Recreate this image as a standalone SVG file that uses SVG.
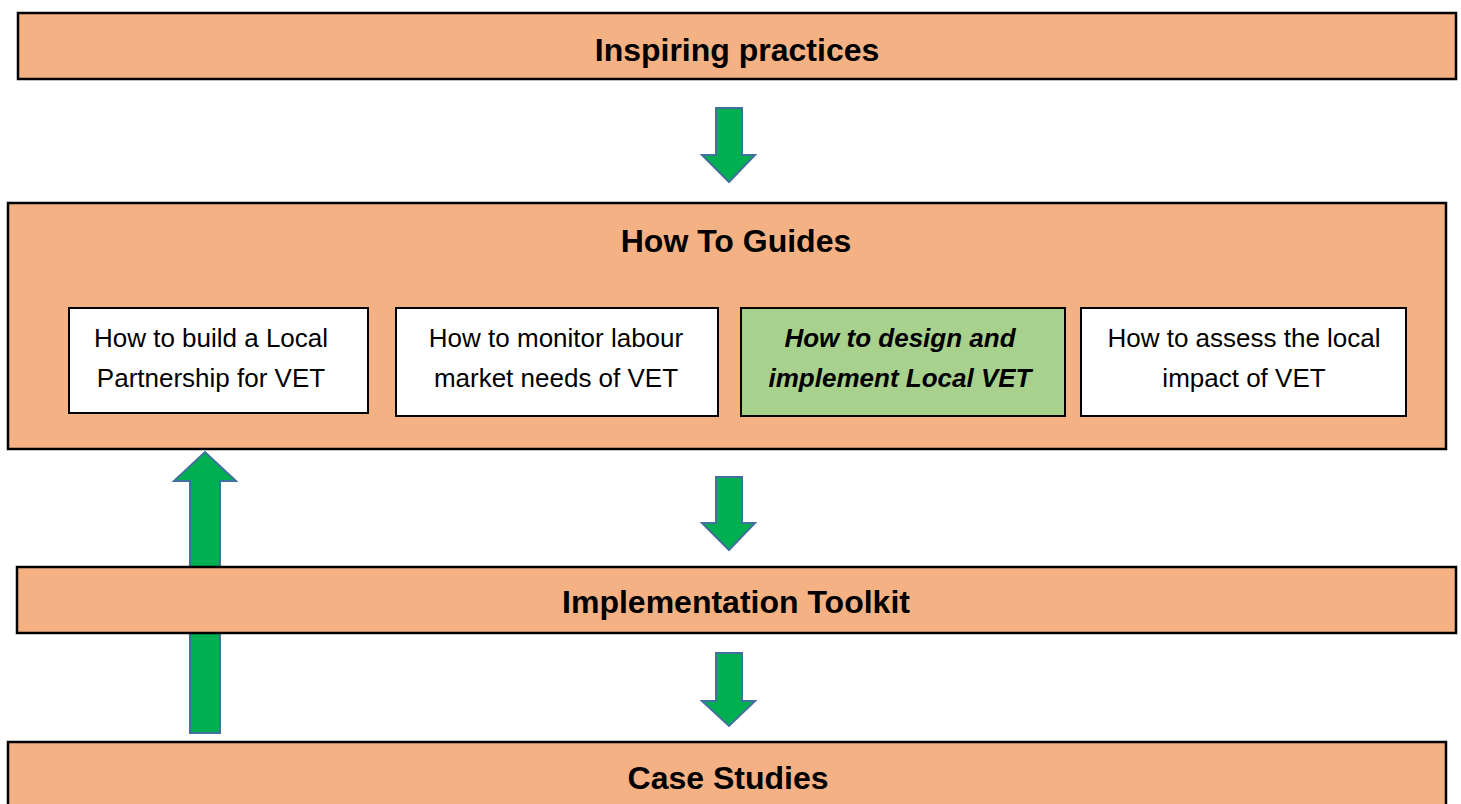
<svg xmlns="http://www.w3.org/2000/svg" width="1461" height="804" viewBox="0 0 1461 804">
<style>
.band{fill:#F4B183;stroke:#000;stroke-width:2.5}
.card{fill:#fff;stroke:#000;stroke-width:2}
.green{fill:#A9D18E;stroke:#000;stroke-width:2}
.arrow{fill:#00B050;stroke:#41719C;stroke-width:2;stroke-linejoin:miter}
.title{font-family:"Liberation Sans",Arial,sans-serif;font-weight:bold;font-size:32px;fill:#000;text-anchor:middle}
.txt{font-family:"Liberation Sans",Arial,sans-serif;font-size:26px;fill:#000;text-anchor:middle}
.it{font-style:italic;font-weight:bold}
</style>
<rect width="1461" height="804" fill="#fff"/>
<g id="connectors">
<polygon class="arrow" points="716,108 742,108 742,155 755,155 729,182 702,155 716,155"/>
<polygon class="arrow" points="716,477 742,477 742,523 755,523 729,550 702,523 716,523"/>
<polygon class="arrow" points="716,653 742,653 742,701 755,701 729,726 702,701 716,701"/>
<polygon class="arrow" points="190,733 220,733 220,481 236,481 205,452 174,481 190,481"/>
</g>
<g id="inspiring">
<rect class="band" x="18" y="13" width="1438" height="66"/>
<text class="title" x="737" y="61">Inspiring practices</text>
</g>
<g id="howto">
<rect class="band" x="8" y="203" width="1438" height="246"/>
<text class="title" x="736" y="252">How To Guides</text>
</g>
<g id="guide1">
<rect class="card" x="69" y="308" width="299" height="105"/>
<text class="txt" x="211" y="347">How to build a Local</text>
<text class="txt" x="211" y="387">Partnership for VET</text>
</g>
<g id="guide2">
<rect class="card" x="396" y="308" width="322" height="108"/>
<text class="txt" x="556" y="347">How to monitor labour</text>
<text class="txt" x="556" y="387">market needs of VET</text>
</g>
<g id="guide3">
<rect class="green" x="741" y="308" width="324" height="108"/>
<text class="txt it" x="900" y="347">How to design and</text>
<text class="txt it" x="900" y="387">implement Local VET</text>
</g>
<g id="guide4">
<rect class="card" x="1081" y="308" width="325" height="108"/>
<text class="txt" x="1244" y="347">How to assess the local</text>
<text class="txt" x="1244" y="387">impact of VET</text>
</g>
<g id="toolkit">
<rect class="band" x="17" y="567" width="1439" height="66"/>
<text class="title" x="736" y="613">Implementation Toolkit</text>
</g>
<g id="cases">
<rect class="band" x="8" y="742" width="1438" height="70"/>
<text class="title" x="728" y="789">Case Studies</text>
</g>
</svg>
